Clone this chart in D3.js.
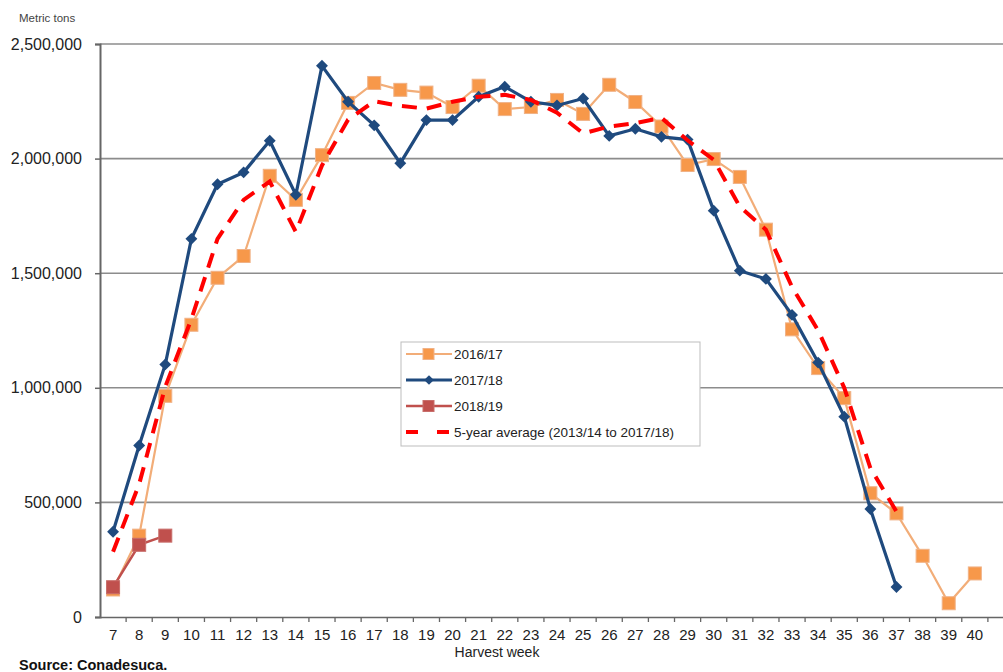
<!DOCTYPE html>
<html>
<head>
<meta charset="utf-8">
<script src="https://cdn.jsdelivr.net/npm/d3@7"></script>
<style>
  html, body { margin: 0; padding: 0; background: #fff; }
  svg { display: block; font-family: "Liberation Sans", Arial, sans-serif; }
</style>
</head>
<body>
<svg id="chart" width="1003" height="672"></svg>
<script>
const weeks = [7,8,9,10,11,12,13,14,15,16,17,18,19,20,21,22,23,24,25,26,27,28,29,30,31,32,33,34,35,36,37,38,39,40,41];
const weekLabels = ["7","8","9","10","11","12","13","14","15","16","17","18","19","20","21","22","23","24","25","26","27","28","29","30","31","32","33","34","35","36","37","38","39","40",""];
const yTicks = [0, 500000, 1000000, 1500000, 2000000, 2500000];

const s1617Weeks = [7,8,9,10,11,12,13,14,15,16,17,18,19,20,21,22,23,24,25,26,27,28,29,30,31,32,33,34,35,36,37,38,39,40];
const s1617 = [120000,355000,965000,1275000,1480000,1575000,1925000,1820000,2015000,2243000,2330000,2300000,2288000,2225000,2318000,2216000,2225000,2256000,2195000,2322000,2247000,2140000,1972000,1998000,1920000,1690000,1255000,1086000,955000,540000,452000,267000,60000,190000];

const s1718Weeks = [7,8,9,10,11,12,13,14,15,16,17,18,19,20,21,22,23,24,25,26,27,28,29,30,31,32,33,34,35,36,37];
const s1718 = [372000,748000,1102000,1650000,1888000,1940000,2078000,1842000,2405000,2248000,2145000,1980000,2168000,2168000,2270000,2314000,2248000,2232000,2262000,2099000,2130000,2095000,2083000,1773000,1511000,1475000,1318000,1110000,874000,471000,131000];

const s1819Weeks = [7,8,9];
const s1819 = [130000,315000,355000];

const avgWeeks = [7,8,9,10,11,12,13,14,15,16,17,18,19,20,21,22,23,24,25,26,27,28,29,30,31,32,33,34,35,36,37];
const avg = [285000,580000,1005000,1300000,1650000,1820000,1900000,1680000,1970000,2170000,2250000,2230000,2218000,2248000,2270000,2278000,2256000,2200000,2110000,2140000,2155000,2178000,2080000,1995000,1790000,1690000,1440000,1250000,1000000,650000,460000];

const seriesNames = ["2016/17", "2017/18", "2018/19", "5-year average (2013/14 to 2017/18)"];

const svg = d3.select("#chart");
const mL = 100, mR = 1014, mT = 44, mB = 617;

const x = d3.scaleBand().domain(weeks).range([mL, mR]).padding(0);
const cx = w => x(w) + x.bandwidth() / 2;
const y = d3.scaleLinear().domain([0, 2500000]).range([mB, mT]);

// gridlines
svg.append("g").selectAll("line").data(yTicks.filter(d => d > 0)).join("line")
  .attr("x1", mL).attr("x2", 1003)
  .attr("y1", d => y(d)).attr("y2", d => y(d))
  .attr("stroke", "#8c8c8c").attr("stroke-width", 1.6);

// y axis
const yAxis = d3.axisLeft(y).tickValues(yTicks).tickSize(5).tickFormat(d3.format(","));
const gy = svg.append("g").attr("transform", `translate(${mL},0)`).call(yAxis);
gy.select(".domain").attr("stroke", "#666").attr("stroke-width", 2);
gy.selectAll(".tick line").attr("stroke", "#666").attr("stroke-width", 1.5);
gy.selectAll(".tick text").attr("x", -18).attr("font-size", 16).attr("fill", "#222")
  .attr("font-family", "Liberation Sans, Arial, sans-serif");

// x axis
const xAxis = d3.axisBottom(x).tickFormat((d, i) => weekLabels[i]).tickSize(0);
const gx = svg.append("g").attr("transform", `translate(0,${mB})`).call(xAxis);
gx.select(".domain").attr("stroke", "#666").attr("stroke-width", 1.6);
gx.selectAll(".tick text").attr("y", 12).attr("font-size", 15).attr("fill", "#222")
  .attr("font-family", "Liberation Sans, Arial, sans-serif");
// boundary ticks between categories
svg.append("g").selectAll("line").data(weeks).join("line")
  .attr("x1", d => x(d) + x.bandwidth()).attr("x2", d => x(d) + x.bandwidth())
  .attr("y1", mB).attr("y2", mB + 5)
  .attr("stroke", "#666").attr("stroke-width", 1.3);

// lines
const line = d3.line().x(d => cx(d[0])).y(d => y(d[1]));
const zip = (a, b) => a.map((w, i) => [w, b[i]]);

const d1617 = zip(s1617Weeks, s1617);
const d1718 = zip(s1718Weeks, s1718);
const d1819 = zip(s1819Weeks, s1819);
const dAvg = zip(avgWeeks, avg);

svg.append("path").datum(d1617).attr("d", line).attr("fill", "none")
  .attr("stroke", "#f2ad78").attr("stroke-width", 2.2);
svg.append("g").selectAll("rect").data(d1617).join("rect")
  .attr("x", d => cx(d[0]) - 6.5).attr("y", d => y(d[1]) - 6.5)
  .attr("width", 13).attr("height", 13)
  .attr("fill", "#f7984a").attr("stroke", "#f0b287").attr("stroke-width", 1);

svg.append("path").datum(d1718).attr("d", line).attr("fill", "none")
  .attr("stroke", "#1f4a7e").attr("stroke-width", 3.2);
svg.append("g").selectAll("path").data(d1718).join("path")
  .attr("d", d3.symbol(d3.symbolDiamond2, 90))
  .attr("transform", d => `translate(${cx(d[0])},${y(d[1])})`)
  .attr("fill", "#1f4a7e");

svg.append("path").datum(d1819).attr("d", line).attr("fill", "none")
  .attr("stroke", "#c0504d").attr("stroke-width", 2.5);
svg.append("g").selectAll("rect").data(d1819).join("rect")
  .attr("x", d => cx(d[0]) - 6.5).attr("y", d => y(d[1]) - 6.5)
  .attr("width", 13).attr("height", 13)
  .attr("fill", "#c0504d").attr("stroke", "#c86e6b").attr("stroke-width", 1);

svg.append("path").datum(dAvg).attr("d", line).attr("fill", "none")
  .attr("stroke", "#ff0000").attr("stroke-width", 4)
  .attr("stroke-dasharray", "15,10");

// legend
const lg = svg.append("g");
lg.append("rect").attr("x", 401).attr("y", 342).attr("width", 299).attr("height", 104)
  .attr("fill", "#fff").attr("stroke", "#bdbdbd").attr("stroke-width", 1);
const ly = [354, 380, 406, 432];
const lx1 = 406, lx2 = 452;
lg.append("line").attr("x1", lx1).attr("x2", lx2).attr("y1", ly[0]).attr("y2", ly[0])
  .attr("stroke", "#f2ad78").attr("stroke-width", 2.2);
lg.append("rect").attr("x", 423).attr("y", ly[0] - 5.5).attr("width", 11).attr("height", 11)
  .attr("fill", "#f7984a").attr("stroke", "#f0b287");
lg.append("line").attr("x1", lx1).attr("x2", lx2).attr("y1", ly[1]).attr("y2", ly[1])
  .attr("stroke", "#1f4a7e").attr("stroke-width", 3);
lg.append("path").attr("d", d3.symbol(d3.symbolDiamond2, 60))
  .attr("transform", `translate(429,${ly[1]})`).attr("fill", "#1f4a7e");
lg.append("line").attr("x1", lx1).attr("x2", lx2).attr("y1", ly[2]).attr("y2", ly[2])
  .attr("stroke", "#c0504d").attr("stroke-width", 2.5);
lg.append("rect").attr("x", 423).attr("y", ly[2] - 5.5).attr("width", 11).attr("height", 11)
  .attr("fill", "#c0504d").attr("stroke", "#c86e6b");
lg.append("line").attr("x1", lx1).attr("x2", lx2).attr("y1", ly[3]).attr("y2", ly[3])
  .attr("stroke", "#ff0000").attr("stroke-width", 4).attr("stroke-dasharray", "12,19");
lg.selectAll("text.lab").data(seriesNames).join("text")
  .attr("x", 454).attr("y", (d, i) => ly[i] + 5)
  .attr("font-size", 13.5).attr("fill", "#222").text(d => d);

// titles
svg.append("text").attr("x", 19).attr("y", 22).attr("font-size", 11.5).attr("fill", "#444")
  .text("Metric tons");
svg.append("text").attr("x", 497).attr("y", 657).attr("text-anchor", "middle")
  .attr("font-size", 14).attr("fill", "#222").text("Harvest week");
svg.append("text").attr("x", 19).attr("y", 670).attr("font-size", 14.5)
  .attr("font-weight", "bold").attr("fill", "#111").text("Source: Conadesuca.");
</script>
</body>
</html>
